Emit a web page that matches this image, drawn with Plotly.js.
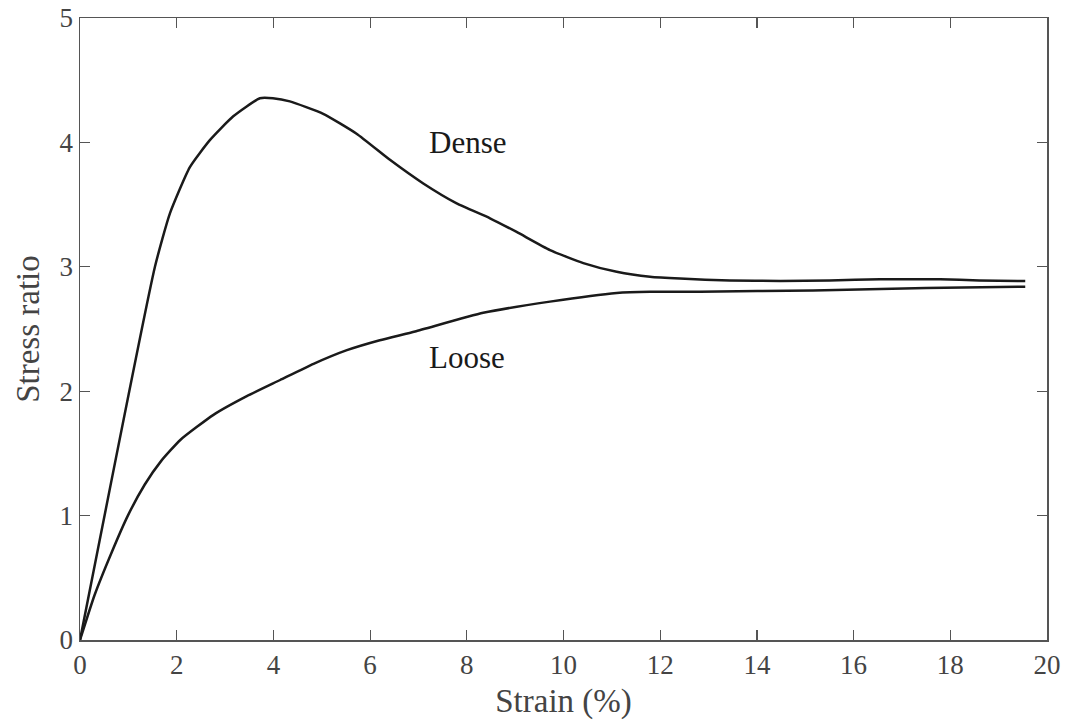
<!DOCTYPE html>
<html>
<head>
<meta charset="utf-8">
<script src="https://cdn.plot.ly/plotly-3.0.1.min.js"></script>
<style>html,body{margin:0;padding:0;background:#fff;}#chart{width:1070px;height:726px;}</style>
</head>
<body>
<div id="chart"></div>
<script>
// Dense sample
const denseStrain = [0, 1.55, 1.86, 2.27, 2.69, 3.17, 3.72, 3.99, 4.34, 5.03, 5.72, 6.41, 7.10, 7.79, 8.48, 9.03, 9.72, 10.41, 11.10, 11.79, 12.41, 13.44, 14.48, 15.50, 16.55, 17.79, 18.60, 19.55];
const denseRatio  = [0, 3.00, 3.43, 3.80, 4.02, 4.21, 4.355, 4.355, 4.33, 4.23, 4.07, 3.86, 3.67, 3.51, 3.39, 3.28, 3.135, 3.03, 2.96, 2.92, 2.905, 2.89, 2.886, 2.89, 2.90, 2.90, 2.89, 2.886];
// Loose sample
const looseStrain = [0, 0.30, 0.65, 0.99, 1.34, 1.68, 2.08, 2.76, 3.45, 4.14, 4.83, 5.52, 6.20, 6.93, 8.34, 9.72, 11.10, 11.79, 12.82, 15.16, 17.50, 19.55];
const looseRatio  = [0, 0.36, 0.70, 1.00, 1.25, 1.44, 1.61, 1.81, 1.96, 2.09, 2.22, 2.33, 2.41, 2.48, 2.63, 2.72, 2.79, 2.80, 2.80, 2.81, 2.83, 2.84];

const xTicks = [0, 2, 4, 6, 8, 10, 12, 14, 16, 18, 20];
const yTicks = [0, 1, 2, 3, 4, 5];
const labels = [
  {text: 'Dense', x: 8.02, y: 4.0},
  {text: 'Loose', x: 8.0, y: 2.27}
];

const lineStyle = {color: '#1a1a1a', width: 2.5, shape: 'spline', smoothing: 0.5};
const traces = [
  {x: denseStrain, y: denseRatio, mode: 'lines', line: lineStyle, name: 'Dense', hoverinfo: 'skip'},
  {x: looseStrain, y: looseRatio, mode: 'lines', line: lineStyle, name: 'Loose', hoverinfo: 'skip'}
];

const tickFont = {family: 'Liberation Serif, serif', size: 27, color: '#444'};
const axisCommon = {
  showgrid: false, zeroline: false, showline: true, linecolor: '#555', linewidth: 1.5,
  mirror: 'ticks', ticks: 'inside', ticklen: 10, tickwidth: 1.2, tickcolor: '#555',
  tickfont: tickFont
};

const layout = {
  width: 1070, height: 726,
  margin: {l: 80, r: 23, t: 18, b: 86},
  paper_bgcolor: '#fff', plot_bgcolor: '#fff',
  showlegend: false,
  xaxis: Object.assign({}, axisCommon, {
    range: [0, 20], tickvals: xTicks, ticktext: xTicks.map(String),
    title: {text: 'Strain (%)', font: {family: 'Liberation Serif, serif', size: 33, color: '#444'}, standoff: 10}
  }),
  yaxis: Object.assign({}, axisCommon, {
    range: [0, 5], tickvals: yTicks, ticktext: yTicks.map(String),
    title: {text: 'Stress ratio', font: {family: 'Liberation Serif, serif', size: 33, color: '#444'}, standoff: 10}
  }),
  annotations: labels.map(l => ({
    x: l.x, y: l.y, xref: 'x', yref: 'y', text: l.text, showarrow: false,
    font: {family: 'Liberation Serif, serif', size: 31, color: '#1a1a1a'}
  }))
};

Plotly.newPlot('chart', traces, layout, {displayModeBar: false, staticPlot: true});
</script>
</body>
</html>
